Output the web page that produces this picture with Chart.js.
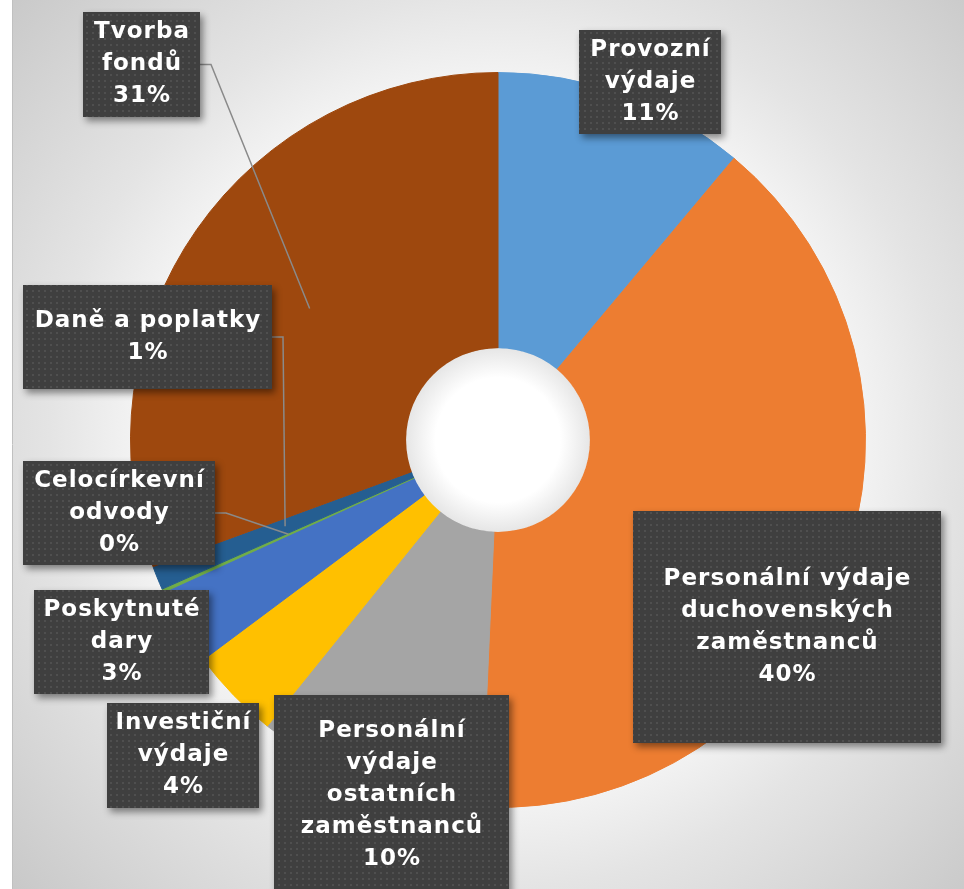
<!DOCTYPE html>
<html><head><meta charset="utf-8">
<script src="https://cdn.jsdelivr.net/npm/chart.js@4.4.1/dist/chart.umd.min.js"></script>
<style>html,body{margin:0;padding:0;background:#fff;overflow:hidden}canvas{display:block}</style>
</head><body><canvas id="c" width="964" height="889"></canvas>
<script>
// ---- data ----
const categories = ["Provozní výdaje","Personální výdaje duchovenských zaměstnanců","Personální výdaje ostatních zaměstnanců","Investiční výdaje","Poskytnuté dary","Celocírkevní odvody","Daně a poplatky","Tvorba fondů"];
const shares = [11.1, 39.6, 10.1, 4.0, 3.4, 0.15, 1.05, 30.6];
const labelLines = [["Provozní","výdaje"],["Personální výdaje","duchovenských","zaměstnanců"],["Personální","výdaje","ostatních","zaměstnanců"],["Investiční","výdaje"],["Poskytnuté","dary"],["Celocírkevní","odvody"],["Daně a poplatky"],["Tvorba","fondů"]];
const sliceColors = ["#5B9BD5","#ED7D31","#A5A5A5","#FFC000","#4472C4","#70AD47","#255E91","#9E480E"];

// ---- layout / style ----
const labelBoxes = [
  {x:579,y:30,w:142,h:104},{x:633,y:511,w:308,h:232},{x:274,y:695,w:235,h:200},{x:107,y:703,w:152,h:105},
  {x:34,y:590,w:175,h:104},{x:23,y:461,w:192,h:104},{x:23,y:285,w:249,h:104},{x:83,y:12,w:117,h:105}];
const hasLeader = [false,false,false,false,false,true,true,true];
const FONT = "bold 23px 'DejaVu Sans', sans-serif";
const LETTER_SP = 1;
const LINE_H = 32;

const bgPlugin = {
  id:'bg',
  beforeDraw(chart){
    const ctx = chart.ctx, W = chart.width, H = chart.height;
    const m = chart.getDatasetMeta(0).data[0];
    const cx = m.x, cy = m.y;
    ctx.save();
    ctx.fillStyle = '#ffffff'; ctx.fillRect(0,0,W,H);
    const g = ctx.createRadialGradient(cx,cy,0,cx,cy,680);
    g.addColorStop(0,'#f6f6f6');
    g.addColorStop(0.54,'#f2f2f2');
    g.addColorStop(0.66,'#e4e4e4');
    g.addColorStop(1,'#c6c6c6');
    ctx.fillStyle = g; ctx.fillRect(13,0,W-13,H);
    ctx.strokeStyle = '#c0c0c0'; ctx.lineWidth = 1;
    ctx.beginPath(); ctx.moveTo(12.5,0); ctx.lineTo(12.5,H); ctx.stroke();
    ctx.restore();
  }
};

function makePattern(ctx){
  const t = document.createElement('canvas'); t.width = 6; t.height = 6;
  const c = t.getContext('2d');
  c.fillStyle = '#3f3f3f'; c.fillRect(0,0,6,6);
  c.fillStyle = '#4f4f4f'; c.fillRect(2,2,2,2);
  return ctx.createPattern(t,'repeat');
}

const labelPlugin = {
  id:'labels',
  afterDatasetsDraw(chart){
    const ctx = chart.ctx;
    const meta = chart.getDatasetMeta(0);
    const a0 = meta.data[0];
    // hole shading
    ctx.save();
    const r = a0.innerRadius;
    const hg = ctx.createRadialGradient(a0.x,a0.y,0,a0.x,a0.y,r);
    hg.addColorStop(0,'#ffffff'); hg.addColorStop(0.68,'#ffffff'); hg.addColorStop(1,'#e6e6e6');
    ctx.fillStyle = hg; ctx.beginPath(); ctx.arc(a0.x,a0.y,r,0,Math.PI*2); ctx.fill();
    ctx.restore();

    const total = shares.reduce((s,v)=>s+v,0);
    const pat = makePattern(ctx);
    // leaders
    ctx.save();
    ctx.strokeStyle = '#8a8a8a'; ctx.lineWidth = 1.5;
    labelBoxes.forEach((b,i)=>{
      if(!hasLeader[i]) return;
      const p = meta.data[i].tooltipPosition();
      const sy = b.y + b.h/2;
      ctx.beginPath(); ctx.moveTo(b.x+b.w, sy); ctx.lineTo(b.x+b.w+11, sy); ctx.lineTo(p.x, p.y); ctx.stroke();
    });
    ctx.restore();
    // boxes
    labelBoxes.forEach((b,i)=>{
      ctx.save();
      ctx.shadowColor = 'rgba(0,0,0,0.45)'; ctx.shadowBlur = 7; ctx.shadowOffsetX = 3; ctx.shadowOffsetY = 4;
      ctx.fillStyle = '#404040'; ctx.fillRect(b.x,b.y,b.w,b.h);
      ctx.restore();
      ctx.save();
      ctx.fillStyle = pat; ctx.fillRect(b.x,b.y,b.w,b.h);
      const lines = labelLines[i].concat([Math.round(shares[i]/total*100)+'%']);
      ctx.fillStyle = '#ffffff'; ctx.font = FONT; ctx.textAlign = 'center'; ctx.textBaseline = 'middle';
      ctx.letterSpacing = LETTER_SP + 'px';
      const cx = b.x + b.w/2 + LETTER_SP/2;
      const cy = b.y + b.h/2;
      const top = cy - (lines.length-1)*LINE_H/2;
      lines.forEach((t,k)=> ctx.fillText(t, cx, top + k*LINE_H));
      ctx.restore();
    });
  }
};

new Chart(document.getElementById('c').getContext('2d'), {
  type:'doughnut',
  data:{labels:categories, datasets:[{data:shares, backgroundColor:sliceColors, borderColor:sliceColors, borderWidth:1, hoverOffset:0}]},
  options:{responsive:false, animation:false, cutout:'25%', events:[],
    layout:{padding:{left:130,right:98,top:72,bottom:81}},
    plugins:{legend:{display:false}, tooltip:{enabled:false}}},
  plugins:[bgPlugin, labelPlugin]
});
</script></body></html>
